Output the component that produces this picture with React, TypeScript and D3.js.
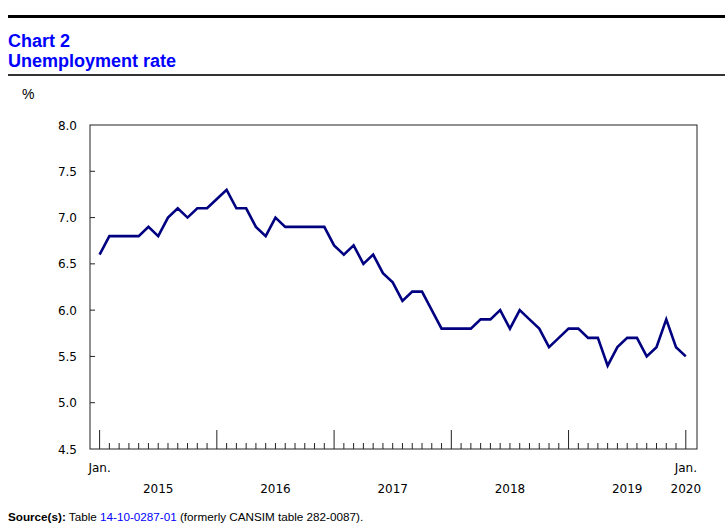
import React, { useEffect, useRef } from "react"
import * as d3 from "d3"

const WIDTH = 725
const HEIGHT = 531
const PLOT = { left: 90, top: 125, right: 697, bottom: 449 }

// monthly unemployment rate, Jan. 2015 to Jan. 2020
const values2015 = [6.6, 6.8, 6.8, 6.8, 6.8, 6.9, 6.8, 7.0, 7.1, 7.0, 7.1, 7.1]
const values2016 = [7.2, 7.3, 7.1, 7.1, 6.9, 6.8, 7.0, 6.9, 6.9, 6.9, 6.9, 6.9]
const values2017 = [6.7, 6.6, 6.7, 6.5, 6.6, 6.4, 6.3, 6.1, 6.2, 6.2, 6.0, 5.8]
const values2018 = [5.8, 5.8, 5.8, 5.9, 5.9, 6.0, 5.8, 6.0, 5.9, 5.8, 5.6, 5.7]
const values2019 = [5.8, 5.8, 5.7, 5.7, 5.4, 5.6, 5.7, 5.7, 5.5, 5.6, 5.9, 5.6]
const values2020 = [5.5]
const rates = [...values2015, ...values2016, ...values2017, ...values2018, ...values2019, ...values2020]

const years = ["2015", "2016", "2017", "2018", "2019", "2020"]
const yTicks = [4.5, 5.0, 5.5, 6.0, 6.5, 7.0, 7.5, 8.0]

const FONT = "'DejaVu Sans', Verdana, sans-serif"

const App: React.FC = () => {
    const svgRef = useRef<SVGSVGElement | null>(null)

    useEffect(() => {
        if (!svgRef.current) return
        const svg = d3.select(svgRef.current)
        svg.selectAll("*").remove()

        const step = 9.77
        const xScale = d3
            .scaleLinear()
            .domain([0, rates.length - 1])
            .range([99.6, 99.6 + step * (rates.length - 1)])
        const yScale = d3.scaleLinear().domain([4.5, 8.0]).range([PLOT.bottom, PLOT.top])

        // header rules and title
        svg.append("rect").attr("x", 8).attr("y", 15).attr("width", WIDTH - 8).attr("height", 3).attr("fill", "#000")
        svg.append("rect").attr("x", 8).attr("y", 74).attr("width", WIDTH - 8).attr("height", 2).attr("fill", "#333")
        const title = svg
            .append("text")
            .attr("font-family", "'Liberation Sans', Arial, sans-serif")
            .attr("font-weight", "bold")
            .attr("font-size", 18)
            .attr("fill", "#0000ff")
        title.append("tspan").attr("x", 8).attr("y", 47).text("Chart 2")
        title.append("tspan").attr("x", 8).attr("y", 67).text("Unemployment rate")

        svg.append("text")
            .attr("x", 22)
            .attr("y", 99)
            .attr("font-family", "'Liberation Sans', Arial, sans-serif")
            .attr("font-size", 14)
            .text("%")

        // plot frame
        svg.append("rect")
            .attr("x", PLOT.left)
            .attr("y", PLOT.top)
            .attr("width", PLOT.right - PLOT.left)
            .attr("height", PLOT.bottom - PLOT.top)
            .attr("fill", "none")
            .attr("stroke", "#222")
            .attr("stroke-width", 1)

        // y ticks and labels
        svg.append("g")
            .selectAll("line")
            .data(yTicks.filter(t => t > 4.5 && t < 8.0))
            .enter()
            .append("line")
            .attr("x1", PLOT.left)
            .attr("x2", PLOT.left + 5)
            .attr("y1", d => yScale(d))
            .attr("y2", d => yScale(d))
            .attr("stroke", "#222")

        svg.append("g")
            .selectAll("text")
            .data(yTicks)
            .enter()
            .append("text")
            .attr("x", 77)
            .attr("y", d => yScale(d) + 4.5)
            .attr("text-anchor", "end")
            .attr("font-family", FONT)
            .attr("font-size", 12)
            .text(d => d.toFixed(1))

        // month ticks
        svg.append("g")
            .selectAll("line")
            .data(d3.range(rates.length))
            .enter()
            .append("line")
            .attr("x1", d => xScale(d))
            .attr("x2", d => xScale(d))
            .attr("y1", PLOT.bottom)
            .attr("y2", d => (d % 12 === 0 ? PLOT.bottom - 19 : PLOT.bottom - 6))
            .attr("stroke", "#222")

        // Jan. labels
        svg.append("g")
            .selectAll("text")
            .data([0, rates.length - 1])
            .enter()
            .append("text")
            .attr("x", d => xScale(d))
            .attr("y", 472)
            .attr("text-anchor", "middle")
            .attr("font-family", FONT)
            .attr("font-size", 12)
            .text("Jan.")

        // year labels
        svg.append("g")
            .selectAll("text")
            .data(years)
            .enter()
            .append("text")
            .attr("x", (_, i) => (i < 5 ? xScale(i * 12 + 6) : xScale(60)))
            .attr("y", 493)
            .attr("text-anchor", "middle")
            .attr("font-family", FONT)
            .attr("font-size", 12)
            .text(d => d)

        // line
        const line = d3
            .line<number>()
            .x((_, i) => xScale(i))
            .y(d => yScale(d))
        svg.append("path")
            .datum(rates)
            .attr("d", line)
            .attr("fill", "none")
            .attr("stroke", "#000080")
            .attr("stroke-width", 2.6)
            .attr("stroke-linejoin", "miter")

        // source
        const src = svg
            .append("text")
            .attr("x", 8)
            .attr("y", 521)
            .attr("font-family", "'Liberation Sans', Arial, sans-serif")
            .attr("font-size", 11.7)
            .attr("fill", "#000")
        src.append("tspan").attr("font-weight", "bold").text("Source(s):")
        src.append("tspan").text(" Table ")
        src.append("tspan").attr("fill", "#0000ff").text("14-10-0287-01")
        src.append("tspan").text(" (formerly CANSIM table 282-0087).")
    }, [])

    return (
        <svg
            ref={svgRef}
            width={WIDTH}
            height={HEIGHT}
            style={{ position: "absolute", left: 0, top: 0, background: "#fff" }}
        />
    )
}

export default App
